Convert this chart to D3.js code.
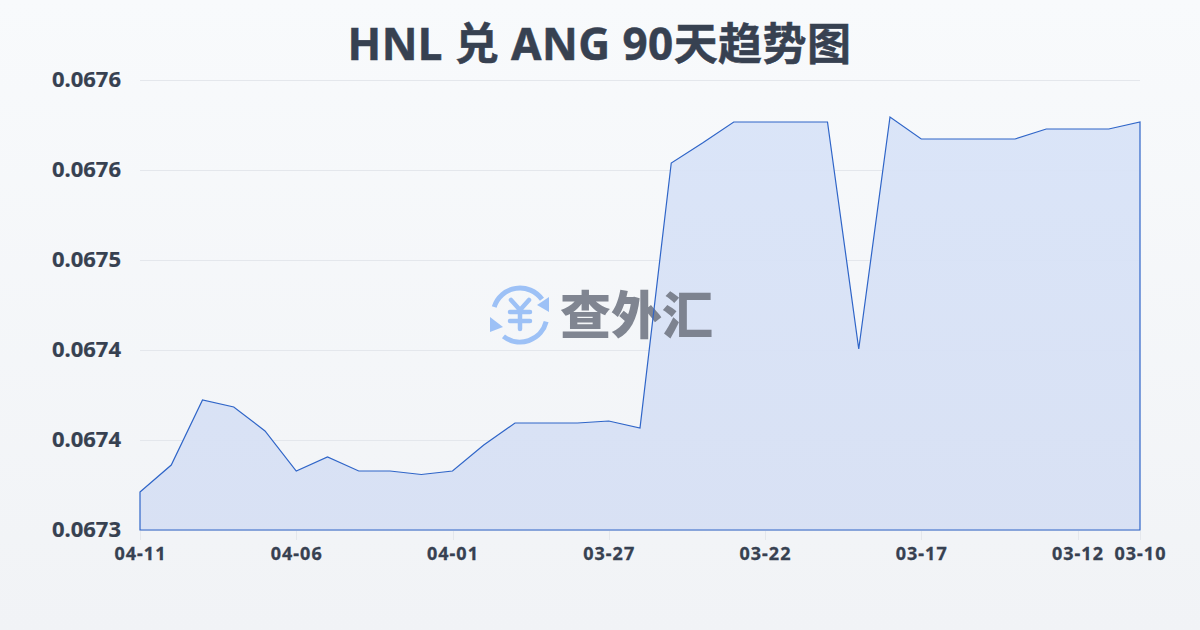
<!DOCTYPE html>
<html><head><meta charset="utf-8">
<script src="https://cdnjs.cloudflare.com/ajax/libs/d3/7.8.5/d3.min.js"></script>
<style>html,body{margin:0;padding:0;overflow:hidden}svg{display:block}
text{font-family:"Noto Sans","Noto Sans CJK SC",sans-serif;font-weight:700}</style>
</head><body>
<script>
const titleText = "HNL 兑 ANG 90天趋势图";
const watermarkText = "查外汇";
const dates = ["04-11","04-10","04-09","04-08","04-07","04-06","04-05","04-04","04-03","04-02","04-01","03-31","03-30","03-29","03-28","03-27","03-26","03-25","03-24","03-23","03-22","03-21","03-20","03-19","03-18","03-17","03-16","03-15","03-14","03-13","03-12","03-11","03-10"];
const rates = [0.06732744,0.06734694,0.06739389,0.06738883,0.0673715,0.06734261,0.06735272,0.06734261,0.06734261,0.06734008,0.06734261,0.06736139,0.06737728,0.06737728,0.06737728,0.06737872,0.06737367,0.06756506,0.0675795,0.06759467,0.06759467,0.06759467,0.06759467,0.06743072,0.06759828,0.06758239,0.06758239,0.06758239,0.06758239,0.06758961,0.06758961,0.06758961,0.06759467];
const xTickLabels = ["04-11","04-06","04-01","03-27","03-22","03-17","03-12","03-10"];
const yTicks = [0.0673,0.067365,0.06743,0.067495,0.06756,0.067625];
const yDomain = [0.0673,0.067625];

const W=1200,H=630,L=140,R=1140,T=80,B=530;
const svg=d3.select("body").append("svg").attr("width",W).attr("height",H);
const defs=svg.append("defs");
const bg=defs.append("linearGradient").attr("id","bg").attr("x1",0).attr("x2",0).attr("y1",0).attr("y2",1);
bg.append("stop").attr("offset",0).attr("stop-color","#f8fafc");
bg.append("stop").attr("offset",1).attr("stop-color","#f1f3f6");
const af=defs.append("linearGradient").attr("id","af").attr("gradientUnits","userSpaceOnUse").attr("x1",0).attr("x2",0).attr("y1",T).attr("y2",B);
af.append("stop").attr("offset",0).attr("stop-color","#d9e4f8");
af.append("stop").attr("offset",1).attr("stop-color","#d7e0f4");
svg.append("rect").attr("width",W).attr("height",H).attr("fill","url(#bg)");

const x=d3.scalePoint().domain(dates).range([L,R]);
const y=d3.scaleLinear().domain(yDomain).range([B,T]);

// grid
svg.append("g").selectAll("line").data(yTicks).join("line")
 .attr("x1",L).attr("x2",R).attr("y1",d=>Math.round(y(d))+.5).attr("y2",d=>Math.round(y(d))+.5)
 .attr("stroke","#e4e7ec").attr("stroke-width",1);

// area fill
const area=d3.area().x((d,i)=>x(dates[i])).y0(B).y1(d=>y(d));
svg.append("path").datum(rates).attr("d",d=>area(d)).attr("fill","url(#af)").attr("fill-opacity",.95);

// watermark
const wm=svg.append("g");
const ic=wm.append("g").attr("transform","translate(520,315)").attr("fill","none").attr("stroke","#9dc1f6").attr("stroke-linecap","round");
const arc=d3.arc().innerRadius(27).outerRadius(27);
ic.append("path").attr("stroke-width",5).attr("d",arc({startAngle:-1.27,endAngle:0.95}));
ic.append("path").attr("stroke-width",5).attr("d",arc({startAngle:1.82,endAngle:3.8}));
ic.append("path").attr("fill","#9dc1f6").attr("stroke","none").attr("d","M17,-10 L29,-18 L29,-3 Z");
ic.append("path").attr("fill","#9dc1f6").attr("stroke","none").attr("d","M-30,2 L-17,12 L-30,17 Z");
ic.append("path").attr("stroke-width",4.5).attr("d","M-9,-15 L0,-5 L9,-15 M0,-5 L0,14 M-10,-3 L10,-3 M-10,6 L10,6");
wm.append("text").attr("x",560).attr("y",334).attr("font-size",51).attr("fill","#6f7582").attr("fill-opacity",.88).attr("style","font-family:'Noto Sans CJK SC';font-weight:900").text(watermarkText);

// outline of area
svg.append("path").datum(rates).attr("d",d=>area(d)).attr("fill","none").attr("stroke","#2f65c8").attr("stroke-width",1.2).attr("stroke-linejoin","miter");

// axes
svg.append("g").selectAll("line").data(xTickLabels).join("line")
 .attr("x1",d=>Math.round(x(d))+.5).attr("x2",d=>Math.round(x(d))+.5).attr("y1",B+1).attr("y2",B+10).attr("stroke","#e4e7ec");
svg.append("g").selectAll("text").data(xTickLabels).join("text")
 .attr("x",d=>x(d)+.5).attr("y",560).attr("text-anchor","middle").attr("font-size",18).attr("letter-spacing",1).attr("fill","#374151").attr("stroke","#374151").attr("stroke-width",.3).text(d=>d);
svg.append("g").selectAll("text").data(yTicks).join("text")
 .attr("x",121).attr("y",d=>y(d)+7).attr("text-anchor","end").attr("font-size",22).attr("fill","#374151").attr("stroke","#374151").attr("stroke-width",.2).text(d=>d3.format(".4f")(d));

svg.append("text").attr("x",599.5).attr("y",60).attr("text-anchor","middle").attr("font-size",44).attr("letter-spacing",.45).attr("fill","#374151").attr("stroke","#374151").attr("stroke-width",.5).text(titleText);
</script>
</body></html>
